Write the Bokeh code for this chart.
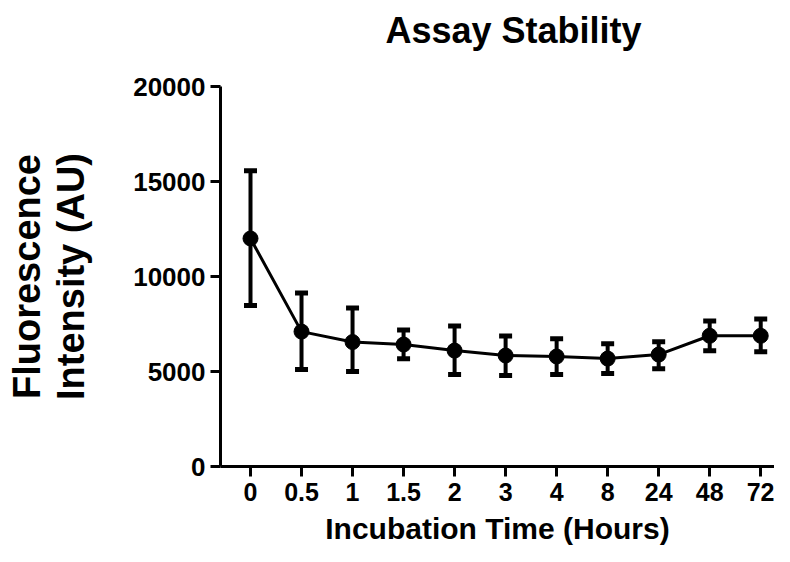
from bokeh.plotting import figure
from bokeh.models import ColumnDataSource, Whisker, TeeHead, Range1d, FixedTicker, Title
from bokeh.embed import file_html
from bokeh.resources import INLINE

# Data
time_labels = ["0", "0.5", "1", "1.5", "2", "3", "4", "8", "24", "48", "72"]
mean_values = [12000, 7100, 6550, 6420, 6100, 5840, 5790, 5680, 5890, 6880, 6880]
upper_values = [15560, 9130, 8340, 7190, 7400, 6870, 6730, 6460, 6560, 7660, 7760]
lower_values = [8480, 5100, 5000, 5670, 4840, 4790, 4840, 4890, 5150, 6090, 6040]
y_ticks = [0, 5000, 10000, 15000, 20000]

positions = list(range(len(time_labels)))
src = ColumnDataSource(dict(x=positions, y=mean_values,
                            upper=upper_values, lower=lower_values))

FONT = "Liberation Sans"

p = figure(frame_width=554, frame_height=380, output_backend="svg", toolbar_location=None,
           x_range=Range1d(-0.588, 10.27), y_range=Range1d(0, 20000),
           min_border_left=220, min_border_right=0, min_border_top=86,
           min_border_bottom=0)

p.outline_line_color = None
p.xgrid.grid_line_color = None
p.ygrid.grid_line_color = None

# invisible spacer between frame and title (panels stack outward from the frame)
spacer = Title(text=" ", text_font_size="10px", standoff=21)
p.add_layout(spacer, "above")

title = Title(text="Assay Stability", align="left", offset=165,
              text_font=FONT, text_font_style="bold", text_font_size="36px",
              text_color="black", standoff=4)
p.add_layout(title, "above")

# X axis
xa = p.xaxis[0]
xa.ticker = FixedTicker(ticks=positions)
xa.major_label_overrides = {i: lab for i, lab in enumerate(time_labels)}
xa.axis_label = "Incubation Time (Hours)"

ya = p.yaxis[0]
ya.ticker = FixedTicker(ticks=y_ticks)
ya.axis_label = "Fluorescence\nIntensity (AU)"

for ax in (xa, ya):
    ax.axis_line_width = 3
    ax.axis_line_color = "black"
    ax.major_tick_line_width = 3
    ax.major_tick_line_color = "black"
    ax.major_tick_in = 0
    ax.major_tick_out = 10
    ax.minor_tick_line_color = None
    ax.major_label_text_font = FONT
    ax.major_label_text_font_style = "bold"
    ax.major_label_text_color = "black"
    ax.axis_label_text_font = FONT
    ax.axis_label_text_font_style = "bold"
    ax.axis_label_text_color = "black"

xa.major_label_text_font_size = "25px"
xa.major_label_standoff = 6
xa.axis_label_text_font_size = "30px"
xa.axis_label_standoff = 8
xa.axis_label_text_line_height = 1.0

ya.major_label_text_font_size = "26px"
ya.major_label_standoff = 5
ya.axis_label_text_font_size = "38px"
ya.axis_label_standoff = 38
ya.axis_label_text_line_height = 1.05

p.line("x", "y", source=src, line_width=3, line_color="black")

whisk = Whisker(base="x", upper="upper", lower="lower", source=src,
                line_width=4, line_color="black",
                upper_head=TeeHead(size=13, line_width=5, line_color="black"),
                lower_head=TeeHead(size=13, line_width=5, line_color="black"))
p.add_layout(whisk)

p.scatter("x", "y", source=src, size=15, fill_color="black", line_color="black")

open("out.html", "w").write(file_html(p, INLINE))
